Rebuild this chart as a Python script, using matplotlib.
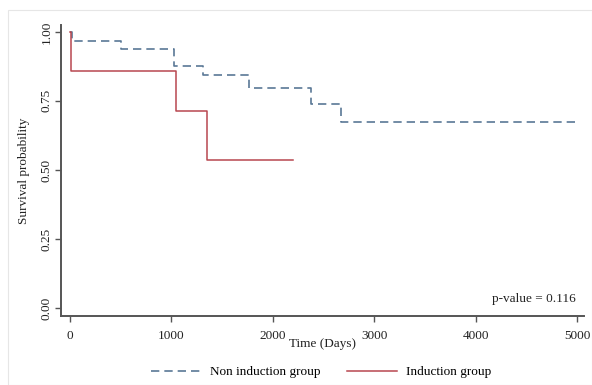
import matplotlib
matplotlib.use("Agg")
import matplotlib.pyplot as plt
from matplotlib.patches import Rectangle

plt.rcParams['font.family'] = ['Liberation Serif', 'DejaVu Serif']

# Non induction group (Kaplan-Meier steps)
non_time = [0, 20, 500, 1030, 1310, 1770, 2380, 2670, 5000]
non_surv = [1.0, 0.967, 0.938, 0.877, 0.844, 0.797, 0.739, 0.674, 0.674]

# Induction group
ind_time = [0, 10, 1050, 1350, 2200]
ind_surv = [1.0, 0.857, 0.714, 0.536, 0.536]

xticks = [0, 1000, 2000, 3000, 4000, 5000]
yticks = [0.0, 0.25, 0.5, 0.75, 1.0]
ytick_labels = ["0.00", "0.25", "0.50", "0.75", "1.00"]

fig = plt.figure(figsize=(5.92, 3.85), dpi=100)
fig.patches.append(Rectangle((8/592, 0), 1 - 8/592, 1 - 10/385, transform=fig.transFigure,
                             fill=False, edgecolor='#e6e6e6', linewidth=0.8))
ax = fig.add_axes([61/592, 1 - 316/385, (584 - 61)/592, (316 - 25)/385])

blue = '#5a7896'
red = '#b8474f'
l1, = ax.step(non_time, non_surv, where='post', color=blue, linestyle=(0, (5, 3)), linewidth=1.2,
              label='Non induction group')
l2, = ax.step(ind_time, ind_surv, where='post', color=red, linewidth=1.1, label='Induction group')

ax.set_xlim(-89, 5069)
ax.set_ylim(-0.029, 1.025)
ax.set_xticks(xticks)
ax.set_xticklabels([str(t) for t in xticks], fontsize=9.5)
ax.set_yticks(yticks)
ax.set_yticklabels(ytick_labels, fontsize=9.5, rotation=90, va='center')
for s in ['top', 'right']:
    ax.spines[s].set_visible(False)
for s in ['left', 'bottom']:
    ax.spines[s].set_color('#555555')
    ax.spines[s].set_linewidth(1.4)
ax.tick_params(axis='both', colors='#555555', length=4, width=1, labelcolor='#222222', pad=6)
ax.tick_params(axis='y', pad=2)
ax.set_xlabel('Time (Days)', fontsize=9.5, labelpad=-3, color='#222222')
ax.set_ylabel('Survival probability', fontsize=9.5, labelpad=8, color='#222222')
ax.text(0.985, 0.06, 'p-value = 0.116', transform=ax.transAxes, ha='right', va='center',
        fontsize=9.5, color='#222222')

fig.legend(handles=[l1, l2], loc='center', bbox_to_anchor=(321/592, 1 - 372/385), ncol=2,
           frameon=False, fontsize=9.5, handlelength=3.8, columnspacing=2.0, handletextpad=0.7)

fig.savefig('out.png', dpi=100)
